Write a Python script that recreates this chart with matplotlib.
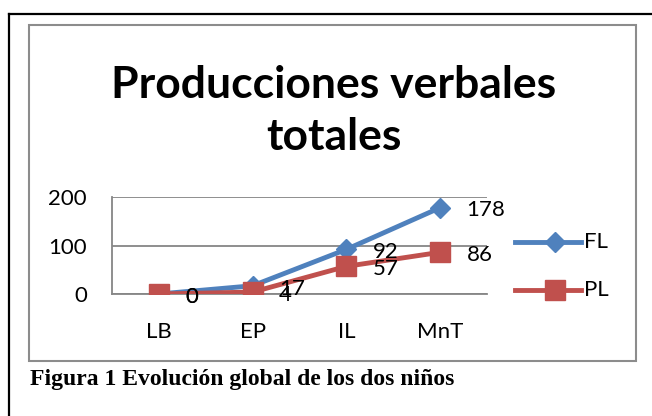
import matplotlib
matplotlib.use("Agg")
import matplotlib.pyplot as plt
from matplotlib.lines import Line2D
from matplotlib.patches import Rectangle

categories = ["LB", "EP", "IL", "MnT"]
fl_values = [0, 17, 92, 178]
pl_values = [0, 4, 57, 86]
series_names = ["FL", "PL"]
y_ticks = [0, 100, 200]

W, H = 652, 416
fig = plt.figure(figsize=(W / 100, H / 100), dpi=100)
fig.patch.set_facecolor("white")

def fx(px):
    return px / W

def fy(py):
    return 1 - py / H

# outer frame (left and top lines)
fig.add_artist(Line2D([fx(9), fx(9)], [fy(14), fy(420)], color="black", lw=1.6, transform=fig.transFigure))
fig.add_artist(Line2D([fx(9), fx(660)], [fy(14), fy(14)], color="black", lw=1.6, transform=fig.transFigure))
# chart box
fig.add_artist(Rectangle((fx(29), fy(361)), fx(636) - fx(29), fy(25) - fy(361),
                         fill=False, edgecolor="#8c8c8c", lw=1.5, transform=fig.transFigure))

ax = fig.add_axes([fx(112), fy(294), fx(487) - fx(112), fy(197) - fy(294)])
x = list(range(len(categories)))
blue = "#4F81BD"
red = "#C0504D"
ax.plot(x, fl_values, color=blue, lw=3.5, marker="D", markersize=10, zorder=3)
ax.plot(x, pl_values, color=red, lw=3.5, marker="s", markersize=14, zorder=4)

font = "Lato"
for xi, v in zip(x, fl_values):
    ax.annotate(str(v), (xi, v), xytext=(19, -2), textcoords="offset points",
                ha="left", va="center", fontsize=16, family=font, zorder=5)
for xi, v in zip(x, pl_values):
    ax.annotate(str(v), (xi, v), xytext=(19, -2), textcoords="offset points",
                ha="left", va="center", fontsize=16, family=font, zorder=5)

ax.set_xlim(-0.5, len(categories) - 0.5)
ax.set_ylim(0, 200)
ax.set_yticks(y_ticks)
ax.set_xticks(x)
ax.set_xticklabels(categories, family=font, fontsize=16)
ax.set_yticklabels([str(t) for t in y_ticks], family=font, fontsize=16)
ax.tick_params(axis="both", length=0)
ax.tick_params(axis="x", pad=20)
ax.tick_params(axis="y", pad=18)
ax.grid(axis="y", color="#868686", lw=1.3)
ax.set_axisbelow(True)
for s in ["top", "right"]:
    ax.spines[s].set_visible(False)
ax.spines["left"].set_color("#868686")
ax.spines["bottom"].set_color("#868686")
ax.spines["left"].set_linewidth(1.3)
ax.spines["bottom"].set_linewidth(1.3)
ax.set_facecolor("none")

# title
fig.text(fx(334), fy(85), "Producciones verbales", ha="center", va="center",
         fontsize=32, fontweight="bold", family=font)
fig.text(fx(334), fy(137), "totales", ha="center", va="center",
         fontsize=32, fontweight="bold", family=font)

# legend
leg_items = [(series_names[0], blue, "D", 10, 242), (series_names[1], red, "s", 14, 290)]
for name, col, mk, ms, py in leg_items:
    fig.add_artist(Line2D([fx(515), fx(581)], [fy(py), fy(py)], color=col, lw=3.5,
                          transform=fig.transFigure))
    fig.add_artist(Line2D([fx(555)], [fy(py)], color=col, marker=mk, markersize=ms,
                          transform=fig.transFigure))
    fig.text(fx(584), fy(py), name, ha="left", va="center", fontsize=16, family=font)

# caption
fig.text(fx(30), fy(380), "Figura 1 Evolución global de los dos niños", ha="left", va="center",
         fontsize=17, fontweight="bold", family="Liberation Serif")

fig.savefig("out.png", dpi=100, facecolor="white")
